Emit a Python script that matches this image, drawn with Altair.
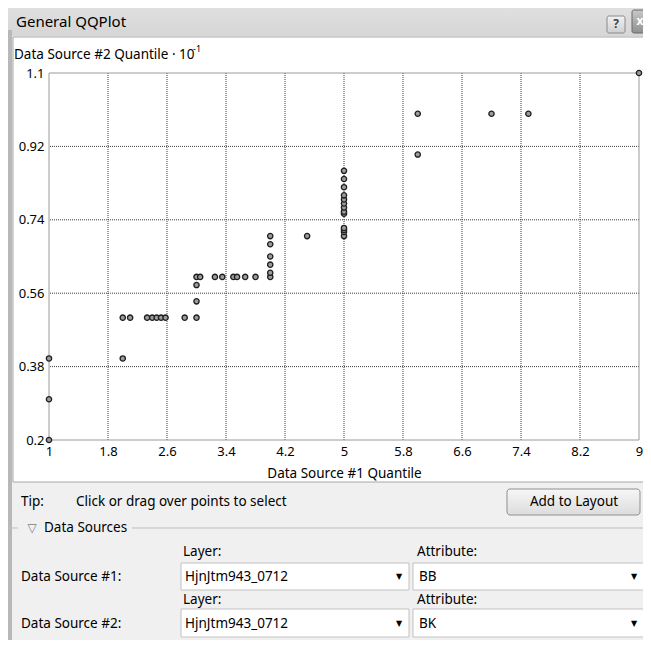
import altair as alt
import pandas as pd

# ---------------- data ----------------
ds1_quantile = [1, 1, 1, 2,
                2.0, 2.1, 2.33, 2.4, 2.46, 2.52, 2.58, 2.84, 3.0,
                3.0, 3.0,
                3.0, 3.05, 3.25, 3.35, 3.5, 3.55, 3.66, 3.8, 4.0,
                4.0, 4.0, 4.0, 4.0, 4.0,
                4.5,
                5, 5, 5, 5, 5, 5, 5, 5, 5, 5, 5, 5, 5,
                6, 6, 7, 7.5, 9]
ds2_quantile = [0.2, 0.3, 0.4, 0.4,
                0.5, 0.5, 0.5, 0.5, 0.5, 0.5, 0.5, 0.5, 0.5,
                0.54, 0.58,
                0.6, 0.6, 0.6, 0.6, 0.6, 0.6, 0.6, 0.6, 0.6,
                0.61, 0.63, 0.65, 0.68, 0.70,
                0.70,
                0.70, 0.71, 0.715, 0.72, 0.755, 0.76, 0.77, 0.78, 0.79, 0.80, 0.82, 0.84, 0.86,
                0.9, 1.0, 1.0, 1.0, 1.1]
x_ticks = [1, 1.8, 2.6, 3.4, 4.2, 5, 5.8, 6.6, 7.4, 8.2, 9]
y_ticks = [0.2, 0.38, 0.56, 0.74, 0.92, 1.1]

FONT = "Noto Sans"
FS = 13.5
W, H = 590, 367
X0, Y0 = 49, 73  # page position of plot origin

points = pd.DataFrame({"ds1": ds1_quantile, "ds2": ds2_quantile})
xs = alt.Scale(domain=[x_ticks[0], x_ticks[-1]], nice=False, zero=False)
ys = alt.Scale(domain=[y_ticks[0], y_ticks[-1]], nice=False, zero=False)
LABEL_EXPR = "format(datum.value, '.2~g')"
x_axis = alt.Axis(values=x_ticks, labelExpr=LABEL_EXPR, grid=False, domain=False, ticks=False,
                  labelFont=FONT, labelFontSize=13, labelColor="#000000", labelPadding=5,
                  labelFlush=False, labelOverlap=False,
                  title="Data Source #1 Quantile", titleFont=FONT, titleFontSize=FS,
                  titleFontWeight="normal", titleColor="#000000", titlePadding=8, zindex=1)
y_axis = alt.Axis(values=y_ticks, labelExpr=LABEL_EXPR, grid=False, domain=False, ticks=False,
                  labelFont=FONT, labelFontSize=13, labelColor="#000000", labelPadding=5,
                  labelFlush=False, labelOverlap=False, title=None, zindex=1)
one = pd.DataFrame({"k": [0]})


def rect(x, x2, y, y2, **kw):
    return alt.Chart(one).mark_rect(**kw).encode(
        x=alt.value(x - X0), x2=alt.value(x2 - X0),
        y=alt.value(y - Y0), y2=alt.value(y2 - Y0))


def text(s, x, y, align="left", size=FS, **kw):
    kw.setdefault("font", FONT)
    kw.setdefault("color", "#000000")
    return alt.Chart(one).mark_text(align=align, baseline="middle", fontSize=size, **kw).encode(
        x=alt.value(x - X0), y=alt.value(y - Y0), text=alt.value(s))


def hline(x, x2, y, color):
    return alt.Chart(one).mark_rule(color=color, strokeWidth=1).encode(
        x=alt.value(x - X0), x2=alt.value(x2 - X0), y=alt.value(y - Y0))


def vgrad(c1, c2):
    return alt.LinearGradient(gradient="linear", x1=0, x2=0, y1=0, y2=1,
                              stops=[alt.GradientStop(color=c1, offset=0),
                                     alt.GradientStop(color=c2, offset=1)])


layers = []
# window chrome
layers.append(rect(8, 660, 0, 36, fill=vgrad("#e2e2e2", "#d6d6d6")))
layers.append(rect(8, 12, 30, 660, fill="#b8b8b8"))
layers.append(text("General QQPlot", 16, 22, size=15))
layers.append(rect(607, 625, 16, 33, fill=vgrad("#f2f2f2", "#cfcfcf"), stroke="#8a8a8a", cornerRadius=2))
layers.append(text("?", 616, 24, align="center", size=12, color="#444444", fontWeight="bold"))
layers.append(rect(632, 660, 10, 33, fill=vgrad("#c8c8c8", "#8f8f8f"), stroke="#6a6a6a", cornerRadius=2))
layers.append(text("x", 640, 21, align="center", size=12, color="#ffffff", fontWeight="bold"))
# white chart panel
layers.append(rect(13, 660, 37, 482, fill="#ffffff", stroke="#a8a8a8"))

# grid lines (interior ticks), dotted
layers.append(alt.Chart(pd.DataFrame({"ds1": x_ticks[1:-1]})).mark_rule(
    color="#3c3c3c", strokeDash=[1, 1], strokeWidth=1).encode(
    x=alt.X("ds1:Q", scale=xs, axis=x_axis)))
layers.append(alt.Chart(pd.DataFrame({"ds2": y_ticks[1:-1]})).mark_rule(
    color="#3c3c3c", strokeDash=[1, 1], strokeWidth=1).encode(
    y=alt.Y("ds2:Q", scale=ys, axis=y_axis)))
# plot frame
layers.append(alt.Chart(one).mark_rect(fill="transparent", stroke="#9a9a9a", strokeWidth=1).encode(
    x=alt.value(0), x2=alt.value(W), y=alt.value(0), y2=alt.value(H)))

# QQ points
layers.append(alt.Chart(points).mark_point(
    filled=True, fill="#9c9c9c", stroke="#1e1e1e", strokeWidth=1.3, size=28, opacity=1, shape="circle").encode(
    x=alt.X("ds1:Q", scale=xs, axis=x_axis),
    y=alt.Y("ds2:Q", scale=ys, axis=y_axis)))

# y axis title (horizontal, top left)
layers.append(text("Data Source #2 Quantile · 10", 14, 55))
layers.append(text("-1", 193, 49, size=9))

# bottom panel
layers.append(text("Tip:", 21, 502))
layers.append(text("Click or drag over points to select", 76, 502))
layers.append(rect(507, 640, 489, 515, fill=vgrad("#f7f7f7", "#dcdcdc"), stroke="#8e8f8f", cornerRadius=3))
layers.append(text("Add to Layout", 574, 502, align="center"))
layers.append(hline(8, 18, 528, "#bdbdbd"))
layers.append(text("▽", 32, 528, align="center", size=12, color="#7a7a7a", font="DejaVu Sans"))
layers.append(text("Data Sources", 44, 528))
layers.append(hline(132, 660, 528, "#bdbdbd"))

layers.append(text("Layer:", 183, 552))
layers.append(text("Attribute:", 417, 552))
layers.append(text("Data Source #1:", 21, 577))
layers.append(rect(181, 409, 563, 590, fill="#ffffff", stroke="#c2c2c2"))
layers.append(text("HjnJtm943_0712", 185, 577))
layers.append(text("▼", 399, 577, align="center", size=8, font="DejaVu Sans"))
layers.append(rect(413, 646, 563, 590, fill="#ffffff", stroke="#c2c2c2"))
layers.append(text("BB", 419, 577))
layers.append(text("▼", 634, 577, align="center", size=8, font="DejaVu Sans"))

layers.append(text("Layer:", 183, 600))
layers.append(text("Attribute:", 417, 600))
layers.append(text("Data Source #2:", 21, 624))
layers.append(rect(181, 409, 609, 637, fill="#ffffff", stroke="#c2c2c2"))
layers.append(text("HjnJtm943_0712", 185, 624))
layers.append(text("▼", 399, 624, align="center", size=8, font="DejaVu Sans"))
layers.append(rect(413, 646, 609, 637, fill="#ffffff", stroke="#c2c2c2"))
layers.append(text("BK", 419, 624))
layers.append(text("▼", 634, 624, align="center", size=8, font="DejaVu Sans"))

chart = alt.layer(*layers).properties(
    width=W, height=H,
    padding={"left": 41, "top": 65, "right": 4, "bottom": 200},
    autosize=alt.AutoSizeParams(type="none"),
    background="#f0f0f0",
).configure_view(stroke=None)

chart.save("out.html", embed_options={"renderer": "svg", "actions": False})
